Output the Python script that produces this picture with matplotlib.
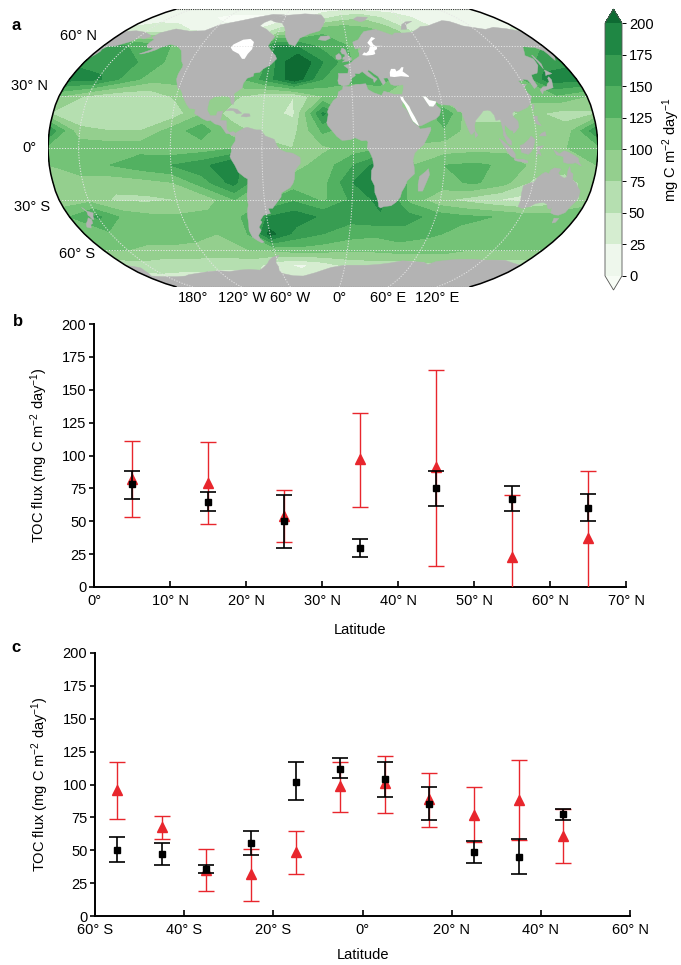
import numpy as np
import matplotlib
matplotlib.use('Agg')
import matplotlib.pyplot as plt
from matplotlib.colors import ListedColormap, BoundaryNorm
from matplotlib.patches import Polygon
from matplotlib.transforms import offset_copy

plt.rcParams['font.family'] = ['Liberation Sans', 'DejaVu Sans']
plt.rcParams['mathtext.fontset'] = 'custom'
plt.rcParams['mathtext.rm'] = 'Liberation Sans'
plt.rcParams['mathtext.it'] = 'Liberation Sans:italic'
plt.rcParams['mathtext.bf'] = 'Liberation Sans:bold'

# ---------------- data: panel a (map) ----------------
FLUX_LEVELS = [0, 25, 50, 75, 100, 125, 150, 175, 200]
FLUX_COLORS = ['#f7fcf5', '#eef7ec', '#d5edd0', '#b5dfb0', '#94cf8e',
               '#74c377', '#52b161', '#389d52', '#1f8744', '#0e6b33']
CB_TICKS = [0, 25, 50, 75, 100, 125, 150, 175, 200]

GRID_LON = [-180, -160, -140, -120, -100, -80, -60, -40, -20,
            0, 20, 40, 60, 80, 100, 120, 140, 160]
GRID_LAT = [-90, -80, -70, -60, -50, -40, -30, -20, -10,
            0, 10, 20, 30, 40, 50, 60, 70, 80, 90]
FLUX_M90 = [40] * 18
FLUX_M80 = [40] * 18
FLUX_M70 = [65, 60, 60, 55, 55, 55, 30, 20, 35, 55, 60, 60, 60, 70, 60, 60, 60, 60]
FLUX_M60 = [100, 95, 95, 95, 95, 100, 105, 115, 110, 105, 105, 110, 110, 110, 100, 100, 100, 100]
FLUX_M50 = [120, 110, 110, 105, 100, 110, 210, 165, 150, 135, 130, 140, 130, 120, 115, 115, 110, 120]
FLUX_M40 = [155, 115, 105, 105, 110, 120, 175, 190, 170, 160, 170, 160, 140, 130, 125, 115, 110, 125]
FLUX_M30 = [90, 70, 70, 75, 85, 125, 120, 145, 120, 155, 185, 115, 80, 65, 50, 40, 60, 80]
FLUX_M20 = [90, 85, 90, 100, 140, 185, 120, 110, 115, 175, 205, 100, 115, 130, 110, 70, 70, 80]
FLUX_M10 = [115, 125, 140, 150, 165, 200, 100, 90, 110, 150, 195, 100, 125, 130, 120, 90, 80, 100]
FLUX_EQ = [120, 115, 115, 105, 110, 120, 90, 75, 95, 110, 125, 90, 85, 90, 90, 90, 100, 115]
FLUX_P10 = [80, 75, 75, 110, 140, 90, 60, 65, 130, 110, 100, 130, 120, 80, 80, 90, 85, 170]
FLUX_P20 = [60, 55, 55, 60, 100, 60, 60, 45, 180, 110, 90, 80, 150, 70, 70, 80, 65, 70]
FLUX_P30 = [70, 55, 55, 80, 90, 80, 55, 50, 100, 110, 100, 80, 80, 80, 80, 110, 120, 100]
FLUX_P40 = [180, 140, 110, 110, 80, 120, 160, 220, 150, 130, 140, 100, 80, 80, 80, 120, 190, 185]
FLUX_P50 = [160, 150, 125, 115, 80, 60, 160, 230, 175, 130, 60, 80, 80, 80, 80, 80, 150, 170]
FLUX_P60 = [150, 140, 120, 100, 40, 40, 180, 170, 140, 125, 60, 80, 80, 80, 80, 80, 120, 150]
FLUX_P70 = [40, 40, 25, 20, 10, 30, 60, 80, 120, 125, 110, 90, 50, 30, 20, 20, 20, 30]
FLUX_P80 = [15, 10, 5, -10, -10, -5, 10, 20, 40, 60, 70, 50, 35, 20, 15, 15, 15, 15]
FLUX_P90 = [15] * 18

MAP_LAT_LABELS = ['60° N', '30° N', '0°', '30° S', '60° S']
MAP_LAT_TICKS = [60, 30, 0, -30, -60]
MAP_LON_TICKS = [-180, -120, -60, 0, 60, 120]
MAP_LON_LABELS = ['180°', '120° W', '60° W', '0°', '60° E', '120° E']

# coastlines (lon, lat)
NORTH_AMERICA = [(-166, 68.5), (-156, 71.3), (-141, 69.7), (-128, 70), (-120, 74), (-105, 77), (-90, 80),
                 (-75, 83), (-62, 82.5), (-72, 78.5), (-78, 76), (-80, 73.5), (-72, 71), (-66, 68), (-62, 66),
                 (-64, 63), (-65, 60), (-62, 57.5), (-57, 54), (-55.5, 52), (-59, 48.5), (-64, 46), (-66, 44),
                 (-70, 43.5), (-70, 41.7), (-74, 40.5), (-76, 37.5), (-76, 35), (-81, 31.5), (-80, 27),
                 (-80.5, 25.2), (-82, 26), (-83, 29), (-85, 30), (-89, 30.3), (-94, 29.6), (-97, 27.8),
                 (-97.5, 22), (-95, 18.7), (-91, 18.8), (-90.5, 21), (-87, 21.5), (-88, 16), (-84, 15.8),
                 (-83.5, 11), (-81.5, 9), (-79, 9.5), (-77.4, 8.6), (-78, 7.2), (-80, 7.3), (-81, 8.1),
                 (-83.7, 8.5), (-85.7, 11), (-87.5, 13), (-91.5, 14), (-94.5, 16), (-96.5, 15.7), (-100, 17),
                 (-105.5, 20), (-105.5, 22.5), (-109.5, 23), (-112, 25.5), (-114, 28), (-117, 32.3),
                 (-118.5, 34), (-121, 35), (-122.5, 37.5), (-124, 40), (-124.5, 43), (-124, 47),
                 (-124.5, 48.5), (-127, 50.5), (-130, 54), (-133, 57), (-137, 59), (-140, 60), (-146, 61),
                 (-152, 59), (-154, 57.5), (-158, 56), (-162, 55), (-164, 55), (-158, 57.5), (-157, 58.7),
                 (-162, 58.7), (-165, 60.5), (-165, 62.5), (-164, 64), (-168, 65.5)]
GREENLAND = [(-73, 78), (-68, 80.5), (-60, 82), (-40, 83.5), (-22, 82.5), (-18, 78), (-20, 74), (-23, 70),
             (-32, 68), (-40, 65), (-43, 60), (-48, 61), (-51, 64), (-53, 66.5), (-54, 69.5), (-56, 72.5),
             (-60, 75.5), (-68, 76.5)]
ICELAND = [(-24, 64), (-22, 66.3), (-15, 66.5), (-13.5, 65), (-18, 63.4)]
CUBA = [(-85, 21.8), (-82, 23), (-77.5, 22.5), (-74.2, 20.2), (-77.5, 19.9), (-80, 21.7)]
HISPANIOLA = [(-74.5, 18.4), (-72.7, 19.9), (-69, 19.8), (-68.4, 18.5), (-71, 18)]
SOUTH_AMERICA = [(-77.5, 8.5), (-76, 9.5), (-72, 11.5), (-70, 12), (-64, 10.5), (-61, 10.5), (-58, 7),
                 (-52, 5), (-50, 1), (-48, -1), (-44, -2.5), (-40, -3), (-35, -5.5), (-35, -9), (-38.5, -13),
                 (-39, -18), (-40, -20.5), (-42, -23), (-48, -26), (-48.5, -28.5), (-52, -32), (-55, -35),
                 (-58, -35), (-57, -38), (-62, -39), (-65, -42), (-64, -43), (-67, -46), (-66, -48),
                 (-69, -51), (-68.5, -53), (-66, -55), (-68, -55.5), (-71, -54), (-74, -52), (-75, -48),
                 (-74, -44), (-73.5, -40), (-73, -37), (-71.5, -33), (-71.5, -28), (-70.5, -23), (-70, -18),
                 (-72, -17), (-76, -14), (-78, -10), (-80, -7), (-81, -5), (-80, -2), (-80, 0.5), (-79, 2),
                 (-77.5, 4), (-77.5, 6.5)]
AFRICA = [(-6, 36), (-2, 35.5), (3, 36.8), (10, 37.3), (11, 34), (15, 32), (20, 30.5), (22, 33), (29, 31),
          (32, 31.2), (34, 31), (34, 28), (33, 24), (36, 22), (38, 18), (39.5, 15), (43, 12.5), (44, 11),
          (51, 12), (51, 10.5), (49, 7), (46, 2), (42, -1), (40, -3), (39, -7), (40, -11), (40.5, -15),
          (36, -19), (35, -22), (33, -25.5), (32.5, -28.5), (30, -31.5), (27, -33.5), (22, -34),
          (20, -34.8), (18.5, -34), (18, -32), (16.5, -28.5), (15, -26), (14.5, -22), (12, -18), (12, -13),
          (13.5, -10.5), (12.5, -6), (11, -3), (9, 0), (9.5, 3.5), (8.5, 4.5), (5.5, 4.2), (1, 6),
          (-2, 4.8), (-7.5, 4.4), (-11, 6.8), (-13, 9), (-15, 11), (-16.8, 13), (-17.5, 14.7),
          (-16.5, 19.5), (-17, 21), (-16, 23.5), (-13, 27.5), (-10, 29.5), (-9.5, 32.5), (-6.5, 34)]
MADAGASCAR = [(44, -25), (47, -25), (50.5, -15.5), (49.5, -12), (48, -13.5), (44, -16.5), (43.5, -21)]
EURASIA = [(-5.6, 36), (-9, 37), (-9.5, 39), (-8.8, 42), (-9, 43.3), (-2, 43.4), (-1.3, 46), (-4.5, 48),
           (-1.5, 48.7), (1.5, 50), (4, 51.5), (8, 53.5), (8.5, 55.5), (8, 57), (10.5, 57.7), (10.5, 59),
           (6, 58), (5, 61), (5, 62.5), (10, 64), (14, 67.5), (17, 69.5), (21, 70), (28, 71), (33, 69.5),
           (41, 67), (44, 68.5), (53, 68.5), (60, 69), (68, 71.5), (72, 73), (80, 73.5), (87, 75),
           (100, 77.5), (106, 77), (113, 73.5), (130, 71), (140, 72.5), (150, 71.5), (160, 69.5),
           (160, 60), (160, 54), (156.5, 51), (156, 57), (152, 59), (143, 59.5), (137, 54), (141, 52),
           (140, 48), (135, 43.5), (130, 42.5), (129, 40), (129.5, 36), (126.5, 34.5), (126, 37),
           (125, 39.5), (122, 40), (121.5, 39), (118, 39), (119, 37), (122.5, 37), (121, 36), (119.5, 35),
           (120.5, 32), (122, 30), (121, 28), (119.5, 25.5), (117, 23.5), (113, 22), (110, 21), (108, 21.5),
           (106, 20), (106.5, 18), (109, 15.5), (109, 12), (106, 9), (105, 8.6), (105, 10), (103, 10.5),
           (100, 13.5), (99.5, 10), (100.5, 7), (103.5, 4), (103.5, 1.5), (101, 2.8), (98.5, 7.5),
           (98.5, 10), (97.5, 16.5), (94.5, 16), (94, 19), (92, 21.5), (90, 22), (87, 21.5), (85, 19.5),
           (81, 16), (80, 13), (80, 10), (78, 8), (77, 8), (76, 10), (74.5, 14), (73, 19), (72.5, 21),
           (70, 21), (68.5, 23.5), (67, 24.8), (62, 25), (58, 25.6), (56.5, 27), (52, 27.8), (50, 30),
           (48, 30), (50, 26.5), (51.5, 24.2), (54, 24), (56, 26), (56.4, 24.5), (59, 22.5), (57.5, 19),
           (55, 17), (52, 16), (45, 13), (43.5, 12.7), (42.5, 15), (41, 18), (39, 21.5), (38, 24), (35, 28),
           (34.5, 29.5), (34.2, 31.3), (35, 32.8), (36, 35.5), (36, 36.7), (32, 36.3), (30, 36.2),
           (27.5, 37), (26.5, 39.5), (26, 40.7), (23, 40.5), (24, 38), (22, 36.5), (21, 38.5), (19.5, 41.5),
           (17, 43), (13.5, 45.5), (12.5, 44.5), (16, 41.5), (18.5, 40), (16, 38), (15.6, 40), (12, 41.8),
           (10.5, 43), (8.5, 44.4), (6, 43.1), (3, 43.3), (3.2, 42), (0.5, 40.5), (-0.5, 38.5), (-2, 36.7)]
CHUKOTKA = [(160, 69.5), (170, 70), (180, 69), (188, 67), (190, 66), (186, 64.5), (182, 65.5), (180, 64.5),
            (177, 62.5), (174, 61.5), (170, 60), (164, 59.8), (162.2, 58), (163, 56.5), (162, 54.5),
            (160, 52.5)]
BRITAIN = [(-5.5, 50), (1.5, 51), (1.7, 52.7), (0, 53.5), (-1.5, 55.5), (-2, 57.5), (-4, 58.6), (-5, 58.5),
           (-6, 56.5), (-5, 55), (-3, 54.8), (-3, 53.3), (-4.5, 53), (-5, 51.7), (-3, 51.5)]
IRELAND = [(-6, 52), (-6, 54), (-7.5, 55.3), (-10, 54), (-10, 52), (-8, 51.5)]
SVALBARD = [(11, 78.5), (16, 80.5), (27, 80.2), (22, 77.5), (17, 76.5)]
NOVAYA_ZEMLYA = [(52, 71), (56, 74.5), (62, 76.5), (69, 77), (60, 74.5), (57, 71)]
HONSHU = [(130.5, 31.2), (131.8, 33), (134.5, 33.7), (136.8, 34.3), (139.8, 35), (141, 37.5), (142, 39.5),
          (141.5, 41.4), (140, 40.5), (139.5, 38.5), (137, 37), (136, 35.7), (133, 35.5), (131, 34.3),
          (130, 33.5)]
HOKKAIDO = [(140, 42), (141.5, 42.5), (144, 42.9), (145.5, 43.3), (142, 45.4), (141.6, 44.3)]
SAKHALIN = [(142, 46), (143.5, 49), (143, 54), (142.5, 54.3), (142, 51)]
TAIWAN = [(120.2, 22.5), (121, 25.3), (122, 25), (121, 22)]
LUZON = [(120, 18.5), (122.5, 18.5), (122, 16), (124, 13), (121, 14), (120, 16)]
MINDANAO = [(122, 7), (126.5, 7), (126, 9.5), (123.5, 8.5)]
SUMATRA = [(95.5, 5.5), (98, 4), (100.5, 2), (104, -1), (106, -3.5), (106, -6), (103.5, -5), (101, -2.5),
           (98.5, 1)]
JAVA = [(105.5, -6), (108, -6.5), (111, -6.5), (114.5, -7.5), (114.5, -8.7), (110, -8), (106.5, -7.4),
        (105.5, -6.8)]
BORNEO = [(109, 1.5), (110, -2.5), (114.5, -3.7), (116.5, -2), (118, 1), (119, 5), (116.5, 7), (115, 5),
          (111, 2)]
SULAWESI = [(119.5, -5.5), (120.5, -1), (120, 0.8), (124.5, 1.3), (121.5, -1), (123, -4.5), (121, -3)]
NEW_GUINEA = [(131, -1), (135, -3.3), (138, -1.6), (141, -2.6), (145, -4.5), (147.5, -6), (148, -8),
              (150, -10.5), (146, -8.5), (143.5, -9), (141, -9), (138, -8.3), (137.5, -5), (133, -4),
              (132, -2.5)]
SRI_LANKA = [(80, 6), (81.8, 7.5), (80, 9.8), (79.8, 8)]
AUSTRALIA = [(114, -22), (114, -26), (115, -31), (115, -34), (118, -35), (123, -34), (126, -32.2),
             (131, -31.5), (134, -32.5), (136, -35), (138, -35.5), (138.5, -34), (140, -37.7),
             (143.5, -38.8), (146.5, -39), (150, -37.5), (151, -34), (153, -31), (153.5, -28), (153, -25),
             (150.5, -22.5), (149, -20.5), (146, -18.5), (145.3, -15), (143.5, -14), (142.5, -10.7),
             (141.6, -13), (141.5, -17), (140, -17.5), (137, -16), (135.5, -14.5), (136.8, -12.2),
             (132.5, -11.5), (130, -13), (129.5, -15), (127, -14), (125, -15), (122, -17.5), (121, -19.5),
             (117, -20.7)]
TASMANIA = [(144.7, -40.7), (148.3, -40.9), (148, -43.2), (146, -43.6)]
NZ_NORTH = [(172.7, -34.5), (174.5, -36.5), (178.5, -37.7), (177, -39.5), (176, -41.5), (175, -41.4),
            (174.5, -39.5), (173.8, -39.2), (174.5, -37)]
NZ_SOUTH = [(172.7, -40.5), (174.3, -41.5), (173, -43.8), (171, -44.5), (169, -46.6), (166.5, -46),
            (168, -44), (171, -42)]
ANTARCTICA = [(160, -70), (166, -71), (170, -72), (168, -76), (165, -78), (170, -78.3), (180, -78.5),
              (-170, -78.5), (-160, -78), (-155, -77), (-150, -76.5), (-140, -75.5), (-130, -74.5),
              (-120, -74), (-110, -74.5), (-100, -73.5), (-90, -73), (-80, -73.5), (-75, -71.5),
              (-70, -69), (-67, -66.5), (-63, -64.5), (-57, -63.3), (-58, -64), (-61, -66), (-62, -68.5),
              (-61, -71), (-62, -74), (-60, -76), (-50, -77.8), (-40, -78), (-35, -77), (-28, -75.5),
              (-20, -73.5), (-12, -71.5), (0, -70), (10, -70), (20, -70), (30, -69.5), (40, -68.5),
              (50, -67), (60, -67.5), (70, -68), (75, -69.5), (80, -67.5), (90, -66.5), (100, -66),
              (110, -66), (120, -66.5), (130, -66.5), (140, -66.7), (150, -68.5), (160, -70)]
# seas without data (white)
HUDSON_BAY = [(-95, 59), (-94, 61), (-88, 64), (-82, 64.5), (-78, 62.5), (-77, 58), (-79, 55), (-80, 52),
              (-82, 52), (-86, 55), (-92, 57)]
BALTIC = [(10.5, 54.3), (14, 54), (19, 54.4), (21, 55), (21, 57), (23.5, 58), (24, 59.5), (29, 60),
          (23, 60), (21.5, 61), (21, 63), (25, 65), (22, 65.8), (17, 62), (18.5, 60), (16.5, 57),
          (14, 55.5), (12.5, 56)]
BLACK_SEA = [(28, 41.5), (28.5, 44), (30, 46), (33, 46), (33.5, 44.5), (36, 45.5), (38, 47), (39.5, 47),
             (38, 44.5), (41.5, 42), (41.5, 41.2), (36, 41.7), (31, 41.2)]
RED_SEA = [(32.5, 30), (33, 28), (35, 25), (36.5, 22), (38, 18.5), (39.5, 15.5), (42, 13.5), (43.5, 12.7),
           (42.5, 15), (41, 18), (39, 21.5), (38, 24), (35, 28), (34.5, 29.5)]
PERSIAN_GULF = [(48, 30), (50, 30), (52, 27.8), (56.5, 27), (56, 26), (54, 24), (51.5, 24.2), (50, 26.5)]

# ---------------- data: panels b and c ----------------
LAT_B = [5, 15, 25, 35, 45, 55, 65]
B_RED = [82, 79, 54, 97, 91, 23, 37]
B_RED_HI = [111, 110, 74, 132, 165, 70, 88]
B_RED_LO = [53, 48, 34, 61, 16, -23, -15]
B_BLK = [78, 65, 50, 30, 75, 67, 60]
B_BLK_HI = [88, 72, 70, 36.5, 88, 76.5, 71]
B_BLK_LO = [67, 58, 30, 23, 61.5, 57.5, 50]
B_XTICKS = [0, 10, 20, 30, 40, 50, 60, 70]
B_XLABELS = ['0°', '10° N', '20° N', '30° N', '40° N', '50° N', '60° N', '70° N']

LAT_C = [-55, -45, -35, -25, -15, -5, 5, 15, 25, 35, 45]
C_RED = [96, 68, 35, 32, 49, 99, 101, 89, 77, 88, 61]
C_RED_HI = [117, 76, 51, 51, 65, 117, 122, 109, 98, 119, 81]
C_RED_LO = [74, 58.5, 19, 11.5, 32, 79, 78, 68, 56.5, 57.5, 40]
C_BLK = [50.5, 47, 36, 55.5, 102, 112, 104, 85, 48.5, 45, 77.5]
C_BLK_HI = [60, 55.7, 38.7, 64.3, 117, 120, 117, 98, 57, 58.5, 81.3]
C_BLK_LO = [41.3, 38.7, 33, 46.3, 88, 105, 90.5, 72.7, 40.5, 32, 73]
C_XTICKS = [-60, -40, -20, 0, 20, 40, 60]
C_XLABELS = ['60° S', '40° S', '20° S', '0°', '20° N', '40° N', '60° N']

Y_TICKS = [0, 25, 50, 75, 100, 125, 150, 175, 200]

# ---------------- Robinson projection ----------------
ROB_LAT = np.arange(0, 91, 5)
ROB_PLEN = [1.0, 0.9986, 0.9954, 0.99, 0.9822, 0.973, 0.96, 0.9427, 0.9216, 0.8962, 0.8679,
            0.835, 0.7986, 0.7597, 0.7186, 0.6732, 0.6213, 0.5722, 0.5322]
ROB_PDFE = [0.0, 0.062, 0.124, 0.186, 0.248, 0.31, 0.372, 0.434, 0.4958, 0.5571, 0.6176,
            0.6769, 0.7346, 0.7903, 0.8435, 0.8936, 0.9394, 0.9761, 1.0]
CENTRAL_LON = -20
XH = 0.8487 * np.pi
YH = 1.3523


def project(rel, lat):
    rel = np.asarray(rel, float)
    lat = np.asarray(lat, float)
    a = np.abs(lat)
    x = 0.8487 * np.interp(a, ROB_LAT, ROB_PLEN) * np.deg2rad(rel)
    y = 1.3523 * np.interp(a, ROB_LAT, ROB_PDFE) * np.sign(lat)
    return x, y


def densify(rel, lat, step=2.0):
    rr, ll = [], []
    n = len(rel)
    for i in range(n):
        j = (i + 1) % n
        k = int(np.ceil(max(abs(rel[j] - rel[i]), abs(lat[j] - lat[i])) / step)) or 1
        t = np.arange(k) / k
        rr.extend(rel[i] + (rel[j] - rel[i]) * t)
        ll.extend(lat[i] + (lat[j] - lat[i]) * t)
    return np.array(rr), np.array(ll)


def poly_xy(pts):
    arr = np.array(pts, float)
    rel = arr[:, 0] - CENTRAL_LON
    if rel.max() > 180:
        rel = rel - 360
    rel, lat = densify(rel, arr[:, 1])
    x, y = project(rel, lat)
    return np.column_stack([x, y])


def antarctica_xy(pts):
    arr = np.array(pts, float)
    rel = ((arr[:, 0] - CENTRAL_LON + 180) % 360) - 180
    rel[-1] = 180
    rel = np.concatenate([rel, [180, -180]])
    lat = np.concatenate([arr[:, 1], [-90, -90]])
    rel, lat = densify(rel, lat)
    x, y = project(rel, lat)
    return np.column_stack([x, y])


# ---------------- figure ----------------
W, H = 681, 965
fig = plt.figure(figsize=(W / 100, H / 100), dpi=100)


def box(l, t, r, b):
    return [l / W, 1 - b / H, (r - l) / W, (b - t) / H]


LAND = '#b3b3b3'
RED = '#e8262d'
FS = 10.5

# ---- panel a ----
axm = fig.add_axes(box(48, 9, 598, 287))
axm.set_xlim(-XH, XH)
axm.set_ylim(-YH, YH)
axm.axis('off')

Z = np.array([FLUX_M90, FLUX_M80, FLUX_M70, FLUX_M60, FLUX_M50, FLUX_M40, FLUX_M30, FLUX_M20,
              FLUX_M10, FLUX_EQ, FLUX_P10, FLUX_P20, FLUX_P30, FLUX_P40, FLUX_P50, FLUX_P60,
              FLUX_P70, FLUX_P80, FLUX_P90], float)
Zext = np.column_stack([Z[:, -1], Z])
lon_ext = np.array([GRID_LON[-1] - 360] + GRID_LON, float)
RR, LL = np.meshgrid(lon_ext - CENTRAL_LON, np.array(GRID_LAT, float))
X, Y = project(RR, LL)

cmap = ListedColormap(FLUX_COLORS[1:-1])
cmap.set_under(FLUX_COLORS[0])
cmap.set_over(FLUX_COLORS[-1])
norm = BoundaryNorm(FLUX_LEVELS, cmap.N)
cf = axm.contourf(X, Y, Zext, levels=FLUX_LEVELS, cmap=cmap, norm=norm, extend='both', zorder=1)

lands = [NORTH_AMERICA, GREENLAND, ICELAND, CUBA, HISPANIOLA, SOUTH_AMERICA, AFRICA, MADAGASCAR,
         EURASIA, CHUKOTKA, BRITAIN, IRELAND, SVALBARD, NOVAYA_ZEMLYA, HONSHU, HOKKAIDO, SAKHALIN,
         TAIWAN, LUZON, MINDANAO, SUMATRA, JAVA, BORNEO, SULAWESI, NEW_GUINEA, SRI_LANKA,
         AUSTRALIA, TASMANIA, NZ_NORTH, NZ_SOUTH]
for pts in lands:
    axm.add_patch(Polygon(poly_xy(pts), closed=True, facecolor=LAND, edgecolor=LAND,
                          linewidth=0.3, zorder=2))
axm.add_patch(Polygon(antarctica_xy(ANTARCTICA), closed=True, facecolor=LAND, edgecolor=LAND,
                      linewidth=0.3, zorder=2))
for pts in [HUDSON_BAY, BALTIC, BLACK_SEA, RED_SEA, PERSIAN_GULF]:
    axm.add_patch(Polygon(poly_xy(pts), closed=True, facecolor='white', edgecolor='none', zorder=2.2))

# graticule
gstyle = dict(color='#e6e6e6', lw=0.7, linestyle=(0, (1.2, 1.6)), zorder=3)
rel_line = np.linspace(-180, 180, 181)
for lat in MAP_LAT_TICKS:
    gx, gy = project(rel_line, np.full_like(rel_line, lat))
    axm.plot(gx, gy, **gstyle)
lat_line = np.linspace(-90, 90, 181)
for lon in MAP_LON_TICKS:
    r = ((lon - CENTRAL_LON + 180) % 360) - 180
    gx, gy = project(np.full_like(lat_line, r), lat_line)
    axm.plot(gx, gy, **gstyle)

# outline
for side in (-180, 180):
    ox, oy = project(np.full_like(lat_line, side), lat_line)
    axm.plot(ox, oy, color='black', lw=1.1, zorder=4, solid_capstyle='butt')
for pole in (-90, 90):
    ox, oy = project(rel_line, np.full_like(rel_line, pole))
    axm.plot(ox, oy, color='#333333', lw=0.8, linestyle=(0, (1, 1)), zorder=4)

# map labels
lat_offsets = {60: (6, 10), 30: (11, 10), 0: (11, 0), -30: (9, -7), -60: (8, -4)}
for lat, lab in zip(MAP_LAT_TICKS, MAP_LAT_LABELS):
    ex, ey = project(-180, lat)
    dx, dy = lat_offsets[lat]
    tr = offset_copy(axm.transData, fig=fig, x=-dx, y=dy, units='dots')
    axm.text(ex, ey, lab, transform=tr, ha='right', va='center', fontsize=FS, clip_on=False)
for lon, lab in zip(MAP_LON_TICKS, MAP_LON_LABELS):
    r = ((lon - CENTRAL_LON + 180) % 360) - 180
    ex, ey = project(r, -90)
    tr = offset_copy(axm.transData, fig=fig, x=0, y=-4, units='dots')
    axm.text(ex, ey, lab, transform=tr, ha='center', va='top', fontsize=FS, clip_on=False)

# colorbar
cax = fig.add_axes(box(605, 9, 622, 290))
cb = fig.colorbar(cf, cax=cax, ticks=CB_TICKS, extendfrac=0.056)
cb.outline.set_linewidth(0.6)
cb.outline.set_edgecolor('#555555')
cax.tick_params(labelsize=FS, length=3, width=0.7, pad=2)
cb.set_label('mg C m$^{-2}$ day$^{-1}$', fontsize=FS, labelpad=5)

fig.text(16 / W, 1 - 26 / H, 'a', fontsize=12, fontweight='bold', ha='center', va='center')


# ---- panels b, c ----
def style_axes(ax, xticks, xlabels, xlim):
    for s in ('top', 'right'):
        ax.spines[s].set_visible(False)
    for s in ('left', 'bottom'):
        ax.spines[s].set_linewidth(1.4)
    ax.set_xlim(*xlim)
    ax.set_ylim(0, 200)
    ax.set_xticks(xticks)
    ax.set_xticklabels(xlabels)
    ax.set_yticks(Y_TICKS)
    ax.tick_params(axis='x', direction='in', length=4.5, width=1.2, labelsize=FS, pad=5)
    ax.tick_params(axis='y', direction='out', length=3.5, width=1.2, labelsize=FS, pad=2)
    ax.set_ylabel('TOC flux (mg C m$^{-2}$ day$^{-1}$)', fontsize=FS)
    ax.set_xlabel('Latitude', fontsize=FS)
    ax.yaxis.set_label_coords(-0.083, 0.5)


def draw_series(ax, lat, red, red_lo, red_hi, blk, blk_lo, blk_hi):
    lat = np.array(lat, float)
    red, red_lo, red_hi = map(lambda a: np.array(a, float), (red, red_lo, red_hi))
    blk, blk_lo, blk_hi = map(lambda a: np.array(a, float), (blk, blk_lo, blk_hi))
    ax.errorbar(lat, red, yerr=[red - red_lo, red_hi - red], fmt='^', color=RED, ecolor=RED,
                ms=6.5, mec=RED, elinewidth=1.0, capsize=6, capthick=1.0, zorder=3)
    ax.errorbar(lat, blk, yerr=[blk - blk_lo, blk_hi - blk], fmt='s', color='black', ecolor='black',
                ms=4.5, elinewidth=1.2, capsize=6, capthick=1.2, zorder=4)


axb = fig.add_axes(box(94, 324, 626, 587))
style_axes(axb, B_XTICKS, B_XLABELS, (0, 70))
draw_series(axb, LAT_B, B_RED, B_RED_LO, B_RED_HI, B_BLK, B_BLK_LO, B_BLK_HI)
axb.xaxis.set_label_coords(0.5, -0.137)
fig.text(18 / W, 1 - 321 / H, 'b', fontsize=12, fontweight='bold', ha='center', va='center')

axc = fig.add_axes(box(95, 653, 630, 916))
style_axes(axc, C_XTICKS, C_XLABELS, (-60, 60))
draw_series(axc, LAT_C, C_RED, C_RED_LO, C_RED_HI, C_BLK, C_BLK_LO, C_BLK_HI)
axc.xaxis.set_label_coords(0.5, -0.122)
fig.text(16 / W, 1 - 647 / H, 'c', fontsize=12, fontweight='bold', ha='center', va='center')

fig.savefig('out.png', dpi=100)
